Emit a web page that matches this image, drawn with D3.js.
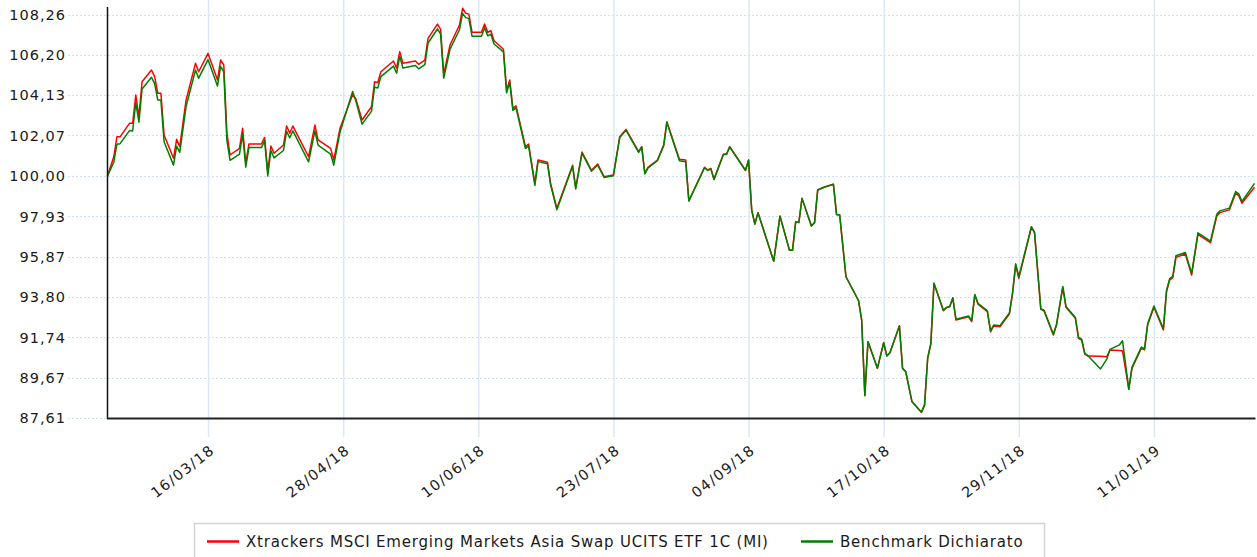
<!DOCTYPE html>
<html>
<head>
<meta charset="utf-8">
<script src="https://cdnjs.cloudflare.com/ajax/libs/d3/7.8.5/d3.min.js"></script>
<style>
  body { margin: 0; background: #fff; }
  text { font-family: "DejaVu Sans", Verdana, sans-serif; fill: #1a1a1a; }
</style>
</head>
<body>
<div id="vis"></div>
<script>
// values
var dates = [
  "12/02/18","14/02/18","15/02/18","16/02/18","19/02/18","20/02/18","21/02/18","22/02/18","23/02/18","26/02/18",
  "27/02/18","28/02/18","01/03/18","02/03/18","05/03/18","06/03/18","07/03/18","09/03/18","12/03/18","13/03/18",
  "16/03/18","19/03/18","20/03/18","21/03/18","22/03/18","23/03/18","26/03/18","27/03/18","28/03/18","29/03/18",
  "02/04/18","03/04/18","04/04/18","05/04/18","06/04/18","09/04/18","10/04/18","11/04/18","12/04/18","17/04/18",
  "19/04/18","20/04/18","24/04/18","25/04/18","27/04/18","01/05/18","02/05/18","04/05/18","07/05/18","08/05/18",
  "09/05/18","10/05/18","14/05/18","15/05/18","16/05/18","17/05/18","21/05/18","22/05/18","24/05/18","25/05/18",
  "28/05/18","29/05/18","30/05/18","01/06/18","04/06/18","05/06/18","06/06/18","07/06/18","08/06/18","11/06/18",
  "12/06/18","13/06/18","14/06/18","15/06/18","18/06/18","19/06/18","20/06/18","21/06/18","22/06/18","25/06/18",
  "26/06/18","28/06/18","29/06/18","02/07/18","03/07/18","05/07/18","10/07/18","11/07/18","13/07/18","16/07/18",
  "18/07/18","20/07/18","23/07/18","25/07/18","27/07/18","31/07/18","01/08/18","02/08/18","03/08/18","06/08/18",
  "08/08/18","09/08/18","13/08/18","15/08/18","16/08/18","21/08/18","22/08/18","23/08/18","24/08/18","27/08/18",
  "28/08/18","29/08/18","03/09/18","04/09/18","05/09/18","06/09/18","07/09/18","12/09/18","14/09/18","17/09/18",
  "18/09/18","19/09/18","20/09/18","21/09/18","24/09/18","25/09/18","26/09/18","28/09/18","01/10/18","02/10/18",
  "03/10/18","05/10/18","09/10/18","10/10/18","11/10/18","12/10/18","15/10/18","17/10/18","18/10/18","19/10/18",
  "22/10/18","23/10/18","24/10/18","26/10/18","29/10/18","30/10/18","31/10/18","01/11/18","02/11/18","05/11/18",
  "06/11/18","07/11/18","08/11/18","09/11/18","13/11/18","14/11/18","15/11/18","16/11/18","19/11/18","20/11/18",
  "21/11/18","23/11/18","26/11/18","27/11/18","28/11/18","29/11/18","03/12/18","04/12/18","06/12/18","07/12/18",
  "10/12/18","11/12/18","13/12/18","14/12/18","17/12/18","18/12/18","19/12/18","20/12/18","21/12/18","25/12/18",
  "27/12/18","28/12/18","31/12/18","01/01/19","03/01/19","04/01/19","07/01/19","08/01/19","09/01/19","11/01/19",
  "14/01/19","15/01/19","16/01/19","17/01/19","18/01/19","21/01/19","23/01/19","25/01/19","29/01/19","31/01/19",
  "01/02/19","04/02/19","06/02/19","07/02/19","08/02/19","12/02/19"
];

var fund = [
  100.00,100.98,102.00,102.00,102.69,102.69,104.14,103.03,104.82,105.42,
  105.08,104.23,104.23,102.09,100.90,101.87,101.50,103.88,105.76,105.33,
  106.27,104.91,105.93,105.68,102.18,101.07,101.41,102.44,100.65,101.63,
  101.63,101.97,100.22,101.53,101.16,101.58,102.55,102.18,102.55,100.98,
  102.60,101.84,101.41,100.81,102.44,104.15,103.95,102.86,103.54,104.82,
  104.77,105.33,105.88,105.51,106.36,105.76,105.88,105.71,105.93,107.04,
  107.77,107.50,105.21,106.70,107.72,108.58,108.32,108.28,107.35,107.35,
  107.77,107.35,107.43,106.92,106.48,104.39,104.91,103.46,103.58,101.50,
  101.63,99.62,100.81,100.70,99.62,98.34,100.55,99.39,101.22,100.29,
  100.61,99.96,100.05,102.00,102.38,101.24,101.50,100.13,100.44,100.81,
  101.58,102.77,100.85,100.81,98.73,100.44,100.30,100.38,99.83,101.12,
  101.12,101.50,100.29,100.81,98.25,97.54,98.12,95.64,97.95,96.21,
  96.21,97.66,97.61,98.85,97.44,97.61,99.28,99.42,99.57,98.03,
  98.00,94.84,93.61,92.62,88.75,91.51,90.15,91.46,90.78,90.95,
  92.32,90.15,89.98,88.44,87.90,88.27,90.67,91.40,94.50,93.10,
  93.25,93.30,93.74,92.62,92.79,92.54,93.90,93.44,93.05,92.02,
  92.32,92.28,92.93,93.96,95.44,94.76,97.37,97.09,93.17,93.10,
  91.86,92.37,94.30,93.28,92.71,91.69,91.60,90.88,90.78,90.77,
  90.75,91.09,91.07,91.05,89.08,90.15,91.18,91.10,92.37,93.28,
  92.11,94.07,94.67,94.79,95.83,96.00,94.93,97.01,96.58,97.95,
  98.12,98.26,99.11,98.99,98.60,99.42
];

var bench = [
  100.00,100.70,101.62,101.65,102.32,102.30,103.75,102.75,104.45,105.05,
  104.72,103.88,103.88,101.75,100.55,101.52,101.20,103.55,105.42,105.00,
  105.95,104.60,105.60,105.32,101.80,100.80,101.12,102.12,100.45,101.45,
  101.45,101.80,100.00,101.30,100.92,101.30,102.28,101.95,102.30,100.72,
  102.30,101.58,101.12,100.55,102.25,104.32,103.85,102.65,103.30,104.55,
  104.50,105.08,105.62,105.25,106.12,105.52,105.65,105.48,105.70,106.80,
  107.52,107.25,105.00,106.48,107.48,108.32,108.10,108.05,107.15,107.15,
  107.58,107.17,107.25,106.75,106.35,104.25,104.78,103.35,103.48,101.40,
  101.53,99.52,100.73,100.62,99.55,98.27,100.49,99.33,101.17,100.24,
  100.56,99.92,100.01,101.96,102.34,101.21,101.47,100.10,100.41,100.78,
  101.55,102.74,100.78,100.72,98.71,100.42,100.28,100.36,99.81,101.10,
  101.10,101.48,100.28,100.80,98.24,97.53,98.11,95.63,97.94,96.20,
  96.20,97.66,97.61,98.85,97.44,97.61,99.28,99.42,99.57,98.03,
  98.00,94.84,93.62,92.63,88.76,91.52,90.16,91.47,90.79,90.96,
  92.33,90.16,89.99,88.45,87.91,88.28,90.68,91.41,94.51,93.12,
  93.27,93.32,93.76,92.66,92.83,92.58,93.93,93.48,93.09,92.07,
  92.37,92.33,92.99,94.02,95.50,94.84,97.40,97.12,93.20,93.13,
  91.90,92.41,94.34,93.32,92.75,91.73,91.64,90.92,90.80,90.12,
  90.62,91.12,91.35,91.56,89.10,90.20,91.24,91.16,92.43,93.34,
  92.18,94.14,94.74,94.86,95.91,96.08,95.01,97.09,96.66,98.04,
  98.21,98.35,99.20,99.08,98.69,99.62
];

var yTicks = [87.61, 89.67, 91.74, 93.80, 95.87, 97.93, 100.00, 102.07, 104.13, 106.20, 108.26];
var xTicks = ["16/03/18", "28/04/18", "10/06/18", "23/07/18", "04/09/18", "17/10/18", "29/11/18", "11/01/19"];
var dateRange = ["12/02/18", "12/02/19"];
var seriesNames = ["Xtrackers MSCI Emerging Markets Asia Swap UCITS ETF 1C (MI)", "Benchmark Dichiarato"];
var seriesColors = ["#ff0000", "#008000"];

var width = 1257, height = 557;
var plot = { left: 107.5, right: 1254.5, top: 14.5, bottom: 418 };

var parseTime = d3.timeParse("%d/%m/%y");
var fmt = d3.format(".2f");

var x = d3.scaleTime()
  .domain(dateRange.map(parseTime))
  .range([plot.left, plot.right]);
var y = d3.scaleLinear()
  .domain([yTicks[0], yTicks[yTicks.length - 1]])
  .range([plot.bottom, plot.top]);

var svg = d3.select("#vis").append("svg")
  .attr("width", width)
  .attr("height", height);

// horizontal dotted grid + y labels
svg.append("g").selectAll("line")
  .data(yTicks)
  .enter().append("line")
  .attr("x1", 68).attr("x2", plot.right + 1)
  .attr("y1", function(d) { return Math.round(y(d)) + 0.5; })
  .attr("y2", function(d) { return Math.round(y(d)) + 0.5; })
  .attr("stroke", "#cfdff2")
  .attr("stroke-dasharray", "2,2");

svg.append("g").selectAll("text")
  .data(yTicks)
  .enter().append("text")
  .attr("x", 66)
  .attr("y", function(d) { return y(d); })
  .attr("dy", "0.36em")
  .attr("text-anchor", "end")
  .style("font-size", "14.5px")
  .style("letter-spacing", "1px")
  .text(function(d) { return fmt(d).replace(".", ","); });

// vertical grid lines at date ticks
var xAxis = d3.axisBottom(x)
  .tickValues(xTicks.map(parseTime))
  .tickFormat(d3.timeFormat("%d/%m/%y"))
  .tickSize(0);

var gx = svg.append("g")
  .attr("transform", "translate(0,440)")
  .call(xAxis);
gx.select(".domain").remove();
gx.selectAll(".tick").append("line")
  .attr("y1", -440).attr("y2", -3)
  .attr("stroke", "#dce8f6")
  .attr("stroke-width", 1.5);
gx.selectAll(".tick text")
  .attr("text-anchor", "end")
  .attr("x", 0).attr("y", 0).attr("dy", 0)
  .attr("transform", "translate(7,12) rotate(-38)")
  .style("font-size", "14.5px")
  .style("letter-spacing", "1.3px")
  .attr("fill", "#1a1a1a");

// series lines
var line = d3.line()
  .x(function(d) { return x(d.date); })
  .y(function(d) { return y(d.value); });

var series = [fund, bench].map(function(vals, i) {
  return {
    name: seriesNames[i],
    color: seriesColors[i],
    values: vals.map(function(v, j) { return { date: parseTime(dates[j]), value: v }; })
  };
});

svg.append("g").selectAll("path")
  .data(series)
  .enter().append("path")
  .attr("fill", "none")
  .attr("stroke", function(d) { return d.color; })
  .attr("stroke-width", 1.5)
  .attr("stroke-linejoin", "round")
  .attr("d", function(d) { return line(d.values); });

// axis lines
svg.append("line")
  .attr("x1", plot.left).attr("x2", plot.left)
  .attr("y1", 7).attr("y2", plot.bottom + 1)
  .attr("stroke", "#111").attr("stroke-width", 1.5);
svg.append("line")
  .attr("x1", plot.left - 0.5).attr("x2", plot.right + 1)
  .attr("y1", plot.bottom + 0.5).attr("y2", plot.bottom + 0.5)
  .attr("stroke", "#222").attr("stroke-width", 2);

// legend
var legend = svg.append("g");
legend.append("rect")
  .attr("x", 194.5).attr("y", 523.5)
  .attr("width", 850).attr("height", 60)
  .attr("fill", "#fff")
  .attr("stroke", "#d4d4d4")
  .attr("stroke-width", 1.5);

var legendX = [207, 801];
var item = legend.selectAll("g.item")
  .data(series)
  .enter().append("g")
  .attr("class", "item")
  .attr("transform", function(d, i) { return "translate(" + legendX[i] + ",541.5)"; });
item.append("line")
  .attr("x1", 0).attr("x2", 32)
  .attr("stroke", function(d) { return d.color; })
  .attr("stroke-width", 2.5);
item.append("text")
  .attr("x", 39).attr("y", 5)
  .style("font-size", "15px")
  .style("letter-spacing", "0.8px")
  .text(function(d) { return d.name; });
</script>
</body>
</html>
